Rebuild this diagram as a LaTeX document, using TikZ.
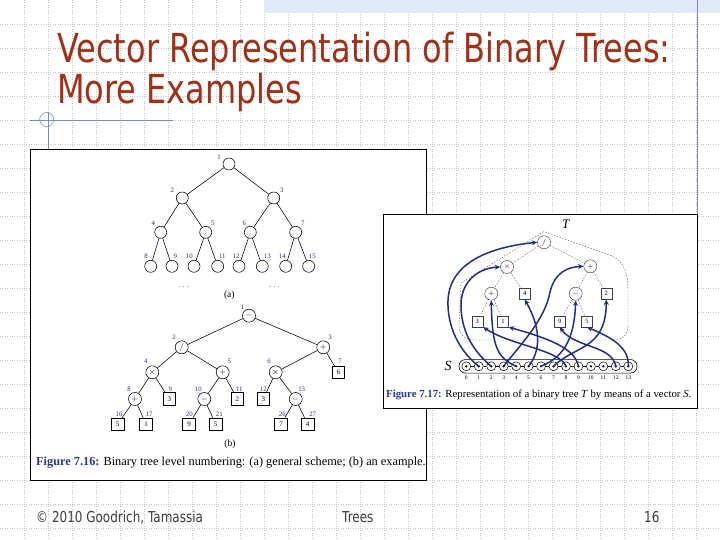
\documentclass[tikz,border=0pt]{standalone}
\usepackage{fontspec}
\usepackage{graphicx}
\setmainfont{Liberation Serif}
\newfontfamily\slidefont[FakeStretch=0.80]{DejaVu Sans}
\usetikzlibrary{arrows.meta}
\definecolor{titlered}{RGB}{160,48,22}
\definecolor{footgray}{RGB}{60,60,60}
\definecolor{bandblue}{RGB}{224,232,250}
\definecolor{decoblue}{RGB}{120,140,190}
\definecolor{labblue}{RGB}{45,45,110}
\definecolor{capblue}{RGB}{40,55,150}
\definecolor{arrblue}{RGB}{35,45,135}
\definecolor{gridgray}{RGB}{195,195,195}
\begin{document}
\begin{tikzpicture}[x=1pt,y=-1pt,
  gridline/.style={line width=0.5pt, gridgray, dash pattern=on 0.8pt off 1.6pt},
  deco/.style={line width=0.8pt, decoblue},
  titletext/.style={font=\slidefont\fontsize{40}{40}\selectfont, text=titlered, inner sep=0pt, anchor=base west},
  foottext/.style={font=\slidefont\fontsize{15}{15}\selectfont, text=footgray, inner sep=0pt, anchor=base west},
  figbox/.style={draw=black, line width=1pt, fill=white},
  acirc/.style={circle, draw, line width=0.55pt, minimum size=12pt, inner sep=0pt},
  bcirc/.style={circle, draw, line width=0.55pt, minimum size=13pt, inner sep=0pt, font=\fontsize{8}{8}\selectfont},
  bsq/.style={rectangle, draw, line width=0.65pt, minimum size=12.5pt, inner sep=0pt, font=\fontsize{7}{7}\selectfont},
  lbl/.style={font=\fontsize{6.8}{6.8}\selectfont, text=labblue, inner sep=0pt},
  tedge/.style={line width=0.55pt},
  rcirc/.style={circle, draw=black!75, line width=0.45pt, minimum size=13pt, inner sep=0pt, font=\fontsize{7}{7}\selectfont},
  rsq/.style={rectangle, draw=black!75, line width=0.6pt, minimum size=11pt, inner sep=0pt, font=\fontsize{6.5}{6.5}\selectfont},
  dedge/.style={line width=0.4pt, black!65, dash pattern=on 1.5pt off 1.5pt},
  outl/.style={line width=0.4pt, black!65, dash pattern=on 1.5pt off 1.5pt},
  cell/.style={circle, draw, line width=0.5pt, minimum size=9pt, inner sep=0pt},
  idx/.style={font=\fontsize{5.5}{5.5}\selectfont, inner sep=0pt},
  arr/.style={line width=1.5pt, arrblue, -{Stealth[length=5.5pt,width=5pt]}},
  caption/.style={font=\fontsize{12.3}{12.3}\selectfont, inner sep=0pt, anchor=base west}
]
\useasboundingbox (0,0) rectangle (720,540);
\fill[white] (0,0) rectangle (720,540);
% background grid
\foreach \i in {1,...,29} \draw[gridline] (\i*24,0) -- (\i*24,540);
\foreach \j in {1,...,22} \draw[gridline] (0,\j*24) -- (720,\j*24);
% top band and decorations
\fill[bandblue] (264,0) rectangle (720,13);
\draw[deco] (697,0) -- (697,215);
\draw[deco] (30,120) -- (173,120);
\draw[deco] (48,112) -- (48,150);
\draw[deco, line width=0.6pt] (46.7,119.5) circle (7);
% title
\node[titletext] (title1) at (57,63) {Vector Representation of Binary Trees:};
\node[titletext] (title2) at (57,104) {More Examples};
% footer
\node[foottext] (foot1) at (36,522.5) {© 2010 Goodrich, Tamassia};
\node[foottext] (foot2) at (342,522.5) {Trees};
\node[foottext] (foot3) at (644,522.5) {16};

% ================= left figure =================
\draw[figbox] (30.5,150) rectangle (426.5,480);
% tree (a)
\foreach \n/\x/\y in {1/229/164, 2/182.3/198, 3/273.7/198, 4/160.7/232.3, 5/205.7/232.3, 6/250.3/232.3, 7/295.7/232.3,
  8/150.7/266.3, 9/172/266.3, 10/194/266.3, 11/217.7/266.3, 12/239/266.3, 13/262.3/266.3, 14/285.7/266.3, 15/308.7/266.3}
  \node[acirc] (a\n) at (\x,\y) {};
\foreach \p/\c in {1/2,1/3,2/4,2/5,3/6,3/7,4/8,4/9,5/10,5/11,6/12,6/13,7/14,7/15}
  \draw[tedge] (a\p) -- (a\c);
\foreach \n/\x/\y in {1/219/157.3, 2/172.3/190.7, 3/281.7/190.7, 4/153.3/223, 5/212.7/223, 6/244.3/223, 7/302.7/223,
  8/146/256.3, 9/175.3/256.3, 10/189.3/256.3, 11/222.3/256.3, 12/236/256.3, 13/267.3/256.3, 14/282.3/256.3, 15/312.3/256.3}
  \node[lbl] (la\n) at (\x,\y) {\n};
\node[font=\fontsize{9}{9}\selectfont, inner sep=0pt] (dotsL) at (184,287.5) {$\cdots$};
\node[font=\fontsize{9}{9}\selectfont, inner sep=0pt] (dotsR) at (274.3,287.5) {$\cdots$};
\node[font=\fontsize{9.5}{9.5}\selectfont, inner sep=0pt] (capa) at (229.3,295) {(a)};
% tree (b)
\node[bcirc] (b1) at (249,315.7) {$-$};
\node[bcirc] (b2) at (181.7,347.3) {$/$};
\node[bcirc] (b3) at (323.3,347.3) {$+$};
\node[bcirc] (b4) at (152.3,372.3) {$\times$};
\node[bcirc] (b5) at (222.7,372.3) {$+$};
\node[bcirc] (b6) at (275.7,372.3) {$\times$};
\node[bsq]   (b7) at (338.3,372.3) {6};
\node[bcirc] (b8) at (135,399) {$+$};
\node[bsq]   (b9) at (169.3,399) {3};
\node[bcirc] (b10) at (204.3,399) {$-$};
\node[bsq]   (b11) at (237.3,399) {2};
\node[bsq]   (b12) at (263.3,399) {3};
\node[bcirc] (b13) at (295.7,399) {$-$};
\node[bsq]   (b16) at (117.7,424.3) {5};
\node[bsq]   (b17) at (146,424.3) {1};
\node[bsq]   (b20) at (189,424.3) {9};
\node[bsq]   (b21) at (215.7,424.3) {5};
\node[bsq]   (b26) at (281,424.3) {7};
\node[bsq]   (b27) at (307.7,424.3) {4};
\foreach \p/\c in {1/2,1/3,2/4,2/5,3/6,3/7,4/8,4/9,5/10,5/11,6/12,6/13,8/16,8/17,10/20,10/21,13/26,13/27}
  \draw[tedge] (b\p) -- (b\c);
\foreach \n/\x/\y in {1/242.3/307.3, 2/174/337.3, 3/330/337.3, 4/145.7/361.7, 5/229.3/361.7, 6/269/361.7, 7/340/361.7,
  8/129/389.3, 9/170.3/389.3, 10/198.3/389.3, 11/239.3/389.3, 12/263.3/389.3, 13/301.7/389.3,
  16/119/414, 17/149/414, 20/189.3/414, 21/219.3/414, 26/282.3/414, 27/312.7/414}
  \node[lbl] (lb\n) at (\x,\y) {\n};
\node[font=\fontsize{9.5}{9.5}\selectfont, inner sep=0pt] (capb) at (230,444) {(b)};
\node[caption] (cap716) at (36,465) {\textbf{\color{capblue}Figure 7.16:} Binary tree level numbering: (a) general scheme; (b) an example.};

% ================= right figure =================
\draw[figbox] (383.5,215) rectangle (697,408);
\node[font=\itshape\fontsize{13}{13}\selectfont, inner sep=0pt] (Tlab) at (565.7,224.7) {T};
\draw[outl] (459,325) -- (461,283) -- (544,231.5) -- (612,256) .. controls (625,262) and (628,275) .. (628,290)
  -- (628,325) .. controls (628,336) and (622,340) .. (612,340) -- (476,340) .. controls (465,340) and (459,335) .. cycle;
\node[rcirc] (r1) at (544,242.3) {$/$};
\node[rcirc] (r2) at (507,267) {$\times$};
\node[rcirc] (r3) at (590.3,266.3) {$+$};
\node[rcirc] (r4) at (491.3,293.7) {$+$};
\node[rsq]   (r5) at (524.7,293.7) {4};
\node[rcirc] (r6) at (575.7,293.7) {$-$};
\node[rsq]   (r7) at (606.3,293.7) {2};
\node[rsq]   (r8) at (477.3,321.3) {3};
\node[rsq]   (r9) at (503,321.3) {1};
\node[rsq]   (r12) at (559.7,321.3) {9};
\node[rsq]   (r13) at (587,321.3) {5};
\foreach \p/\c in {1/2,1/3,2/4,2/5,3/6,3/7,4/8,4/9,6/12,6/13}
  \draw[dedge] (r\p) -- (r\c);
% vector S
\node[draw, line width=0.6pt, rounded corners=6.5pt, minimum width=178pt, minimum height=13.5pt, inner sep=0pt] (vecS) at (548,366.3) {};
\node[font=\itshape\fontsize{14}{14}\selectfont, inner sep=0pt] (Slab) at (448,366.3) {S};
\foreach \i in {0,...,13} {
  \pgfmathsetmacro\cx{466.3+12.46*\i}
  \node[cell] (c\i) at (\cx,366.3) {};
  \fill (c\i.center) circle (1.3pt);
  \node[idx] (ix\i) at (\cx,377.7) {\i};
}
\foreach \i in {0,...,12} {
  \pgfmathtruncatemacro\j{\i+1}
  \draw[line width=0.5pt] (c\i) -- (c\j);
}
% arrows
\draw[arr] (c1.center) .. controls (458,350) and (447,325) .. (448,300) .. controls (450,258) and (500,246) .. (r1.west);
\draw[arr] (c2.center) .. controls (472,350) and (461,330) .. (461,305) .. controls (461,280) and (480,268) .. (r2.west);
\draw[arr] (c3.center) .. controls (520,345) and (545,320) .. (550,292) .. controls (555,272) and (568,267) .. (r3.west);
\draw[arr] (c4.center) .. controls (498,358) and (492,348) .. (r4.south);
\draw[arr] (c5.center) .. controls (540,352) and (542,330) .. (r5.south);
\draw[arr] (c6.center) .. controls (560,358) and (574,345) .. (r6.south);
\draw[arr] (c7.center) .. controls (575,345) and (606,350) .. (r7.south);
\draw[arr] (c8.center) .. controls (560,350) and (510,345) .. (r8.south east);
\draw[arr] (c9.center) .. controls (575,345) and (535,335) .. (r9.south east);
\draw[arr] (c12.center) .. controls (612,345) and (575,348) .. (r12.south);
\draw[arr] (c13.center) .. controls (630,345) and (605,335) .. (r13.south);
\node[caption, font=\fontsize{10.8}{10.8}\selectfont] (cap717) at (386,397) {\textbf{\color{capblue}Figure 7.17:} Representation of a binary tree \textit{T} by means of a vector \textit{S}.};
\end{tikzpicture}
\end{document}
